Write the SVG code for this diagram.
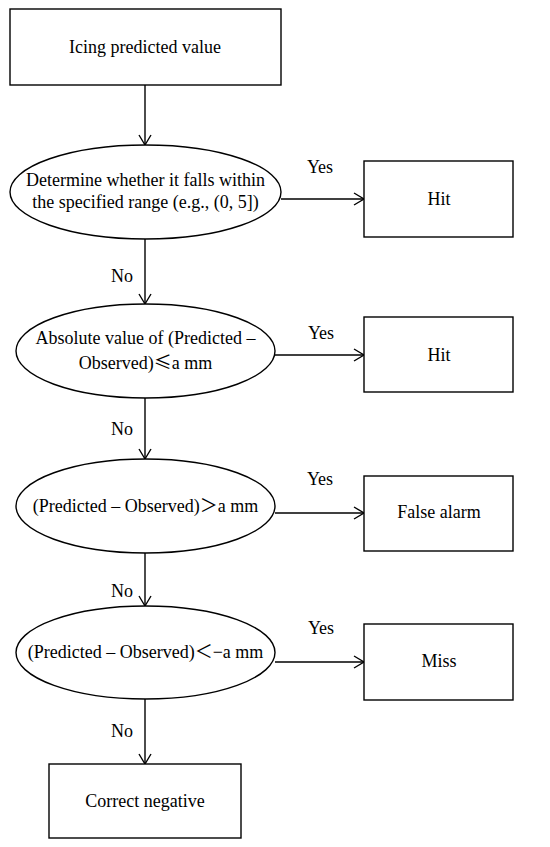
<svg xmlns="http://www.w3.org/2000/svg" width="550" height="847" viewBox="0 0 550 847">
<style>
.n{fill:#fff;stroke:#000;stroke-width:1.4}
.t{font-family:"Liberation Serif","Noto Sans CJK SC",serif;font-size:18px;fill:#000;text-anchor:middle}
.l{font-family:"Liberation Serif",serif;font-size:18px;fill:#000;text-anchor:middle}
.k{font-family:"Noto Sans CJK SC",sans-serif}
.c{stroke:#000;stroke-width:1.4;fill:none;marker-end:url(#a)}
</style>
<defs>
<marker id="a" markerUnits="userSpaceOnUse" markerWidth="16" markerHeight="16" refX="12" refY="7" orient="auto">
<path d="M2,1 L12,7 L2,13" fill="none" stroke="#000" stroke-width="1.4"/>
</marker>
</defs>
<rect width="550" height="847" fill="#fff"/>
<g id="connectors">
<line class="c" x1="145" y1="85" x2="145" y2="145"/>
<line class="c" x1="281" y1="199" x2="364" y2="199"/>
<line class="c" x1="145" y1="239" x2="145" y2="304"/>
<line class="c" x1="275" y1="355" x2="364" y2="355"/>
<line class="c" x1="145" y1="398" x2="145" y2="459"/>
<line class="c" x1="275" y1="513" x2="364" y2="513"/>
<line class="c" x1="145" y1="553" x2="145" y2="606"/>
<line class="c" x1="275" y1="662" x2="364" y2="662"/>
<line class="c" x1="145" y1="699" x2="145" y2="764"/>
<text class="l" x="320" y="173">Yes</text>
<text class="l" x="122" y="282">No</text>
<text class="l" x="321" y="339">Yes</text>
<text class="l" x="122" y="435">No</text>
<text class="l" x="320" y="485">Yes</text>
<text class="l" x="122" y="597">No</text>
<text class="l" x="321" y="634">Yes</text>
<text class="l" x="122" y="737">No</text>
</g>
<g id="start">
<rect class="n" x="10" y="9" width="271" height="76"/>
<text class="t" x="145" y="53">Icing predicted value</text>
</g>
<g id="decision1">
<ellipse class="n" cx="145.5" cy="192" rx="135.5" ry="47"/>
<text class="t" x="145.5" y="186">Determine whether it falls within</text>
<text class="t" x="145.5" y="208">the specified range (e.g., (0, 5])</text>
</g>
<g id="hit1">
<rect class="n" x="364" y="161" width="149" height="76"/>
<text class="t" x="439" y="205">Hit</text>
</g>
<g id="decision2">
<ellipse class="n" cx="145.5" cy="351" rx="129.5" ry="47"/>
<text class="t" x="145.5" y="344">Absolute value of (Predicted –</text>
<text class="t" x="145.5" y="369">Observed)<tspan class="k">≤</tspan>a mm</text>
</g>
<g id="hit2">
<rect class="n" x="364" y="317" width="149" height="75"/>
<text class="t" x="439" y="361">Hit</text>
</g>
<g id="decision3">
<ellipse class="n" cx="145.5" cy="506" rx="129.5" ry="47"/>
<text class="t" x="145.5" y="512">(Predicted – Observed)＞a mm</text>
</g>
<g id="falsealarm">
<rect class="n" x="364" y="476" width="149" height="75"/>
<text class="t" x="439" y="518">False alarm</text>
</g>
<g id="decision4">
<ellipse class="n" cx="145.5" cy="652.5" rx="129.5" ry="46.5"/>
<text class="t" x="145.5" y="658">(Predicted – Observed)＜−a mm</text>
</g>
<g id="miss">
<rect class="n" x="364" y="624" width="149" height="76"/>
<text class="t" x="439" y="667">Miss</text>
</g>
<g id="correctnegative">
<rect class="n" x="49" y="764" width="192" height="74"/>
<text class="t" x="145" y="807">Correct negative</text>
</g>
</svg>
